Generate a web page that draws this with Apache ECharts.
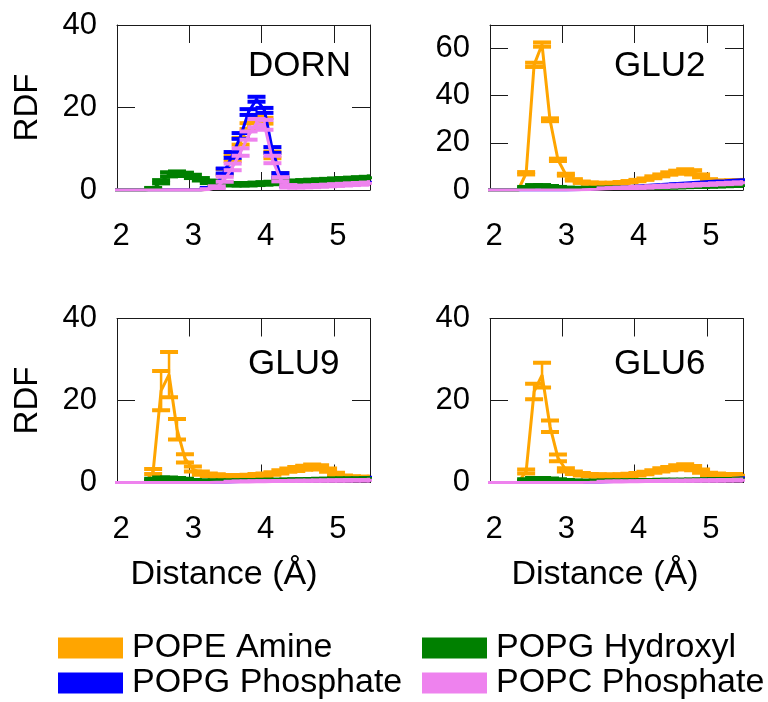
<!DOCTYPE html>
<html>
<head>
<meta charset="utf-8">
<title>RDF panels</title>
<script src="https://cdn.jsdelivr.net/npm/echarts@6/dist/echarts.min.js"></script>
<style>
  html, body { margin: 0; padding: 0; background: #fff; }
  #chart { width: 768px; height: 702px; }
</style>
</head>
<body>
<div id="chart"></div>
<script>
// Bin centres of the radial distribution functions (Å)
const distance = [1.95, 2.06, 2.17, 2.28, 2.39, 2.50, 2.61, 2.72, 2.83, 2.94, 3.05, 3.16, 3.27, 3.38, 3.49, 3.60, 3.71,
  3.82, 3.93, 4.04, 4.15, 4.26, 4.37, 4.48, 4.59, 4.70, 4.81, 4.92, 5.03, 5.14, 5.25, 5.36, 5.47, 5.58];

const panelNames = ['DORN', 'GLU2', 'GLU9', 'GLU6'];
const legendNames = ['POPE Amine', 'POPG Phosphate', 'POPG Hydroxyl', 'POPC Phosphate'];
const xTickLabels = [2, 3, 4, 5];
const yTickLabels40 = [0, 20, 40];
const yTickLabels70 = [0, 20, 40, 60];

// ---- DORN ----
const dornAmine = [0, 0, 0, 0, 0, 0, 0, 0, 0, 0, 0, 0, 0.2, 1.2, 4.4, 7.8, 11.8, 15.5, 17.5, 16.8, 8.5, 3.5, 1.3, 1.0, 1.0, 1.05, 1.1, 1.2, 1.3, 1.4, 1.5, 1.6, 1.7, 1.8];
const dornAmineErr = [0, 0, 0, 0, 0, 0, 0, 0, 0, 0, 0, 0, 0.1, 0.4, 0.7, 0.8, 0.8, 0.7, 0.7, 0.7, 0.8, 0.6, 0.3, 0.1, 0.1, 0.1, 0.1, 0.1, 0.1, 0.1, 0.1, 0.1, 0.1, 0.1];
const dornPhosPG = [0, 0, 0, 0, 0, 0, 0, 0, 0, 0, 0, 0, 0.3, 1.5, 4.6, 8.5, 13.1, 18.9, 22.0, 19.3, 9.7, 3.6, 1.2, 0.9, 1.0, 1.1, 1.2, 1.3, 1.4, 1.5, 1.6, 1.7, 1.8, 1.9];
const dornPhosPGErr = [0, 0, 0, 0, 0, 0, 0, 0, 0, 0, 0, 0, 0.2, 0.5, 0.6, 0.7, 0.7, 0.7, 0.6, 0.6, 0.7, 0.5, 0.3, 0, 0, 0, 0, 0, 0, 0, 0, 0, 0, 0];
const dornHydroxyl = [0, 0, 0, 0, 0, 0.3, 2.0, 3.8, 4.0, 3.8, 3.3, 2.6, 2.0, 1.6, 1.5, 1.4, 1.4, 1.4, 1.5, 1.6, 1.7, 1.8, 1.9, 2.0, 2.1, 2.2, 2.3, 2.4, 2.5, 2.6, 2.7, 2.8, 2.9, 3.0];
const dornHydroxylErr = [0, 0, 0, 0, 0, 0.2, 0.4, 0.5, 0.5, 0.4, 0.4, 0.3, 0.3, 0.3, 0.3, 0.3, 0.3, 0.3, 0.3, 0.3, 0.3, 0.3, 0.3, 0.3, 0.3, 0.3, 0.3, 0.3, 0.3, 0.3, 0.3, 0.3, 0.3, 0.3];
const dornPhosPC = [0, 0, 0, 0, 0, 0, 0, 0, 0, 0, 0, 0, 0.1, 0.6, 2.6, 5.6, 9.2, 13.2, 16.2, 15.8, 7.4, 2.6, 0.9, 0.8, 0.85, 0.9, 1.0, 1.1, 1.2, 1.3, 1.4, 1.5, 1.6, 1.7];
const dornPhosPCErr = [0, 0, 0, 0, 0, 0, 0, 0, 0, 0, 0, 0, 0.1, 0.3, 0.6, 0.8, 0.9, 1.0, 1.0, 1.2, 0.9, 0.5, 0.3, 0.2, 0.2, 0.2, 0.2, 0.2, 0.2, 0.2, 0.2, 0.2, 0.2, 0.2];

// ---- GLU2 ----
const glu2Amine = [0, 0, 0, 0, 0, 7.1, 53.1, 61.7, 29.8, 12.8, 6.5, 4.3, 3.3, 2.9, 2.8, 2.7, 2.8, 3.1, 3.5, 4.0, 4.6, 5.4, 6.2, 7.0, 7.6, 7.9, 7.5, 6.0, 4.2, 3.7, 3.7, 3.8, 3.9, 4.0];
const glu2AmineErr = [0, 0, 0, 0, 0, 0.5, 0.9, 0.9, 0.6, 0.5, 0.4, 0.3, 0.3, 0.3, 0.3, 0.3, 0.3, 0.3, 0.3, 0.3, 0.3, 0.4, 0.4, 0.5, 0.6, 0.9, 0.9, 0.6, 0.4, 0.3, 0.3, 0.3, 0.3, 0.3];
const glu2PhosPG = [0, 0, 0, 0, 0, 0, 0, 0, 0, 0, 0, 0.1, 0.2, 0.4, 0.6, 0.8, 1.0, 1.2, 1.5, 1.7, 1.9, 2.1, 2.3, 2.6, 2.8, 3.0, 3.2, 3.4, 3.6, 3.8, 3.9, 4.1, 4.3, 4.4];
const glu2PhosPGErr = [0, 0, 0, 0, 0, 0, 0, 0, 0, 0, 0, 0, 0, 0, 0, 0, 0, 0, 0, 0, 0, 0, 0, 0, 0, 0, 0, 0, 0, 0, 0, 0, 0, 0];
const glu2Hydroxyl = [0, 0, 0, 0, 0, 1.0, 1.8, 1.8, 1.4, 1.0, 0.8, 0.7, 0.7, 0.7, 0.7, 0.8, 0.8, 0.9, 0.9, 1.0, 1.0, 1.1, 1.2, 1.2, 1.3, 1.4, 1.5, 1.5, 1.6, 1.7, 1.8, 1.9, 1.9, 2.0];
const glu2HydroxylErr = [0, 0, 0, 0, 0, 0.3, 0.3, 0.3, 0.3, 0.3, 0.2, 0.2, 0.2, 0.2, 0.2, 0.2, 0.2, 0.2, 0.2, 0.2, 0.2, 0.2, 0.2, 0.2, 0.2, 0.2, 0.2, 0.2, 0.2, 0.2, 0.2, 0.2, 0.2, 0.2];
const glu2PhosPC = [0, 0, 0, 0, 0, 0, 0, 0, 0, 0, 0, 0.05, 0.1, 0.2, 0.3, 0.5, 0.6, 0.8, 0.9, 1.1, 1.2, 1.4, 1.5, 1.7, 1.8, 2.0, 2.1, 2.3, 2.4, 2.6, 2.7, 2.9, 3.0, 3.1];
const glu2PhosPCErr = [0, 0, 0, 0, 0, 0, 0, 0, 0, 0, 0, 0, 0, 0, 0, 0.2, 0.2, 0.2, 0.2, 0.2, 0.2, 0.2, 0.2, 0.2, 0.2, 0.2, 0.2, 0.2, 0.2, 0.2, 0.2, 0.2, 0.2, 0.2];

// ---- GLU9 ----
const glu9Amine = [0, 0, 0, 0, 0, 2.7, 22.4, 26.3, 13.0, 5.9, 3.3, 2.3, 1.9, 1.7, 1.5, 1.5, 1.5, 1.6, 1.8, 1.9, 2.2, 2.6, 3.0, 3.3, 3.6, 3.9, 3.7, 3.0, 2.1, 1.5, 1.3, 1.2, 1.2, 1.2];
const glu9AmineErr = [0, 0, 0, 0, 0, 0.6, 4.8, 5.5, 2.5, 1.0, 0.6, 0.4, 0.3, 0.3, 0.3, 0.3, 0.3, 0.3, 0.3, 0.3, 0.3, 0.4, 0.4, 0.5, 0.5, 0.5, 0.5, 0.4, 0.3, 0.2, 0.2, 0.2, 0.2, 0.2];
const glu9PhosPG = [0, 0, 0, 0, 0, 0, 0, 0, 0, 0, 0, 0, 0.05, 0.1, 0.15, 0.2, 0.25, 0.3, 0.35, 0.4, 0.45, 0.5, 0.55, 0.6, 0.65, 0.7, 0.8, 0.85, 0.9, 1.0, 1.05, 1.1, 1.2, 1.3];
const glu9PhosPGErr = [0, 0, 0, 0, 0, 0, 0, 0, 0, 0, 0, 0, 0, 0, 0, 0, 0, 0, 0, 0, 0, 0, 0, 0, 0, 0, 0, 0, 0, 0, 0, 0, 0, 0];
const glu9Hydroxyl = [0, 0, 0, 0, 0, 0.7, 1.0, 1.0, 0.9, 0.7, 0.5, 0.4, 0.4, 0.4, 0.4, 0.4, 0.45, 0.5, 0.5, 0.55, 0.6, 0.6, 0.65, 0.7, 0.7, 0.75, 0.8, 0.8, 0.85, 0.85, 0.9, 0.9, 0.95, 0.95];
const glu9HydroxylErr = [0, 0, 0, 0, 0, 0.2, 0.2, 0.2, 0.2, 0.2, 0.1, 0.1, 0.1, 0.1, 0.1, 0.1, 0.1, 0.1, 0.1, 0.1, 0.1, 0.1, 0.1, 0.1, 0.1, 0.1, 0.1, 0.1, 0.1, 0.1, 0.1, 0.1, 0.1, 0.1];
const glu9PhosPC = [0, 0, 0, 0, 0, 0, 0, 0, 0, 0, 0, 0, 0.02, 0.05, 0.08, 0.1, 0.12, 0.15, 0.18, 0.2, 0.22, 0.25, 0.28, 0.3, 0.32, 0.35, 0.38, 0.4, 0.42, 0.45, 0.48, 0.5, 0.52, 0.55];
const glu9PhosPCErr = [0, 0, 0, 0, 0, 0, 0, 0, 0, 0, 0, 0, 0, 0, 0, 0.1, 0.1, 0.1, 0.1, 0.1, 0.1, 0.1, 0.1, 0.1, 0.1, 0.1, 0.1, 0.1, 0.1, 0.1, 0.1, 0.1, 0.1, 0.1];

// ---- GLU6 ----
const glu6Amine = [0, 0, 0, 0, 0, 2.7, 22.2, 26.2, 13.7, 6.0, 3.1, 2.4, 2.0, 1.8, 1.7, 1.65, 1.65, 1.7, 1.85, 2.0, 2.3, 2.7, 3.1, 3.4, 3.7, 3.95, 3.5, 2.8, 2.1, 1.9, 1.8, 1.8, 1.75, 1.75];
const glu6AmineErr = [0, 0, 0, 0, 0, 0.5, 1.9, 3.0, 1.4, 0.8, 0.4, 0.3, 0.3, 0.3, 0.3, 0.3, 0.3, 0.3, 0.3, 0.3, 0.3, 0.3, 0.4, 0.4, 0.5, 0.5, 0.5, 0.4, 0.3, 0.3, 0.3, 0.3, 0.3, 0.3];
const glu6PhosPG = [0, 0, 0, 0, 0, 0, 0, 0, 0, 0, 0, 0, 0.05, 0.1, 0.15, 0.2, 0.25, 0.3, 0.35, 0.4, 0.45, 0.5, 0.55, 0.6, 0.65, 0.7, 0.75, 0.8, 0.85, 0.9, 0.95, 1.0, 1.1, 1.2];
const glu6PhosPGErr = [0, 0, 0, 0, 0, 0, 0, 0, 0, 0, 0, 0, 0, 0, 0, 0, 0, 0, 0, 0, 0, 0, 0, 0, 0, 0, 0, 0, 0, 0, 0, 0, 0, 0];
const glu6Hydroxyl = [0, 0, 0, 0, 0, 0.6, 0.9, 0.9, 0.8, 0.6, 0.5, 0.4, 0.35, 0.35, 0.35, 0.4, 0.4, 0.4, 0.45, 0.45, 0.5, 0.5, 0.55, 0.55, 0.6, 0.6, 0.65, 0.65, 0.7, 0.7, 0.75, 0.75, 0.8, 0.8];
const glu6HydroxylErr = [0, 0, 0, 0, 0, 0.2, 0.2, 0.2, 0.2, 0.2, 0.1, 0.1, 0.1, 0.1, 0.1, 0.1, 0.1, 0.1, 0.1, 0.1, 0.1, 0.1, 0.1, 0.1, 0.1, 0.1, 0.1, 0.1, 0.1, 0.1, 0.1, 0.1, 0.1, 0.1];
const glu6PhosPC = [0, 0, 0, 0, 0, 0, 0, 0, 0, 0, 0, 0, 0.02, 0.04, 0.07, 0.1, 0.12, 0.15, 0.17, 0.2, 0.22, 0.25, 0.27, 0.3, 0.33, 0.35, 0.38, 0.4, 0.43, 0.45, 0.48, 0.5, 0.55, 0.6];
const glu6PhosPCErr = [0, 0, 0, 0, 0, 0, 0, 0, 0, 0, 0, 0, 0, 0, 0, 0.1, 0.1, 0.1, 0.1, 0.1, 0.1, 0.1, 0.1, 0.1, 0.1, 0.1, 0.1, 0.1, 0.1, 0.1, 0.1, 0.1, 0.1, 0.1];

// ---- figure assembly ----
const FONT = '"Liberation Sans", Arial, Helvetica, sans-serif';
const INK = '#000';
const FRAME = '#1a1a1a';
const COLORS = { 'POPE Amine': '#FFA500', 'POPG Phosphate': '#0000FF', 'POPG Hydroxyl': '#008000', 'POPC Phosphate': '#EE82EE' };

// series per panel in drawing order: amine, PG phosphate, hydroxyl, PC phosphate
const panelSeries = [
  [[dornAmine, dornAmineErr], [dornPhosPG, dornPhosPGErr], [dornHydroxyl, dornHydroxylErr], [dornPhosPC, dornPhosPCErr]],
  [[glu2Amine, glu2AmineErr], [glu2PhosPG, glu2PhosPGErr], [glu2Hydroxyl, glu2HydroxylErr], [glu2PhosPC, glu2PhosPCErr]],
  [[glu9Amine, glu9AmineErr], [glu9PhosPG, glu9PhosPGErr], [glu9Hydroxyl, glu9HydroxylErr], [glu9PhosPC, glu9PhosPCErr]],
  [[glu6Amine, glu6AmineErr], [glu6PhosPG, glu6PhosPGErr], [glu6Hydroxyl, glu6HydroxylErr], [glu6PhosPC, glu6PhosPCErr]]
];
const seriesOrder = ['POPE Amine', 'POPG Phosphate', 'POPG Hydroxyl', 'POPC Phosphate'];

const layout = [
  { left: 117, top: 25, width: 253, height: 165, yMax: 40, yTicks: yTickLabels40, titleX: 248, titleY: 66, ylabel: true },
  { left: 490, top: 25, width: 253, height: 165, yMax: 70, yTicks: yTickLabels70, titleX: 614, titleY: 66, ylabel: false },
  { left: 117, top: 318.5, width: 253, height: 164, yMax: 40, yTicks: yTickLabels40, titleX: 248, titleY: 364, ylabel: true },
  { left: 490, top: 318.5, width: 253, height: 164, yMax: 40, yTicks: yTickLabels40, titleX: 614, titleY: 364, ylabel: false }
];

const grids = [], xAxes = [], yAxes = [], series = [], graphics = [];

function xAxisDef(gi, pos, labels) {
  return {
    type: 'value', gridIndex: gi, position: pos, min: 2, max: 5.5, interval: 1,
    axisLine: { show: true, onZero: false, lineStyle: { color: FRAME, width: 1 } },
    axisTick: { show: true, inside: true, length: 18, lineStyle: { color: FRAME, width: 1 } },
    axisLabel: {
      show: labels, margin: 31, fontSize: 31, fontFamily: FONT, color: INK, padding: [0, 0, 0, 8],
      formatter: v => (xTickLabels.indexOf(v) >= 0 ? String(v) : '')
    },
    splitLine: { show: false }
  };
}
function yAxisDef(gi, pos, labels, yMax, ticks) {
  return {
    type: 'value', gridIndex: gi, position: pos, min: 0, max: yMax, interval: 20,
    axisLine: { show: true, onZero: false, lineStyle: { color: FRAME, width: 1 } },
    axisTick: { show: true, inside: true, length: 18, lineStyle: { color: FRAME, width: 1 } },
    axisLabel: {
      show: labels, margin: 20, fontSize: 31, fontFamily: FONT, color: INK,
      formatter: v => (ticks.indexOf(v) >= 0 ? String(v) : '')
    },
    splitLine: { show: false }
  };
}

function renderErrorBar(params, api) {
  const x = api.value(0);
  const lo = api.coord([x, api.value(1)]);
  const hi = api.coord([x, api.value(2)]);
  const color = api.visual('color');
  const half = 9;
  const stem = { stroke: color, lineWidth: 2.5 };
  const cap = { stroke: color, lineWidth: 4 };
  return {
    type: 'group',
    children: [
      { type: 'line', shape: { x1: lo[0], y1: lo[1], x2: hi[0], y2: hi[1] }, style: stem },
      { type: 'line', shape: { x1: lo[0] - half, y1: lo[1], x2: lo[0] + half, y2: lo[1] }, style: cap },
      { type: 'line', shape: { x1: hi[0] - half, y1: hi[1], x2: hi[0] + half, y2: hi[1] }, style: cap }
    ]
  };
}

layout.forEach((L, p) => {
  grids.push({ left: L.left, top: L.top, width: L.width, height: L.height, containLabel: false, outerBoundsMode: 'none', show: false });
  xAxes.push(xAxisDef(p, 'bottom', true));
  xAxes.push(xAxisDef(p, 'top', false));
  yAxes.push(yAxisDef(p, 'left', true, L.yMax, L.yTicks));
  yAxes.push(yAxisDef(p, 'right', false, L.yMax, L.yTicks));

  panelSeries[p].forEach(([vals, errs], k) => {
    const name = seriesOrder[k];
    const color = COLORS[name];
    const z = 2 + k;
    series.push({
      type: 'line', name, xAxisIndex: 2 * p, yAxisIndex: 2 * p, z,
      data: distance.map((d, i) => [d, vals[i]]),
      showSymbol: false, symbol: 'none', clip: true, silent: true,
      lineStyle: { color, width: 3 }, itemStyle: { color }
    });
    const bars = [];
    distance.forEach((d, i) => { if (errs[i] > 0) bars.push([d, vals[i] - errs[i], vals[i] + errs[i]]); });
    series.push({
      type: 'custom', name, xAxisIndex: 2 * p, yAxisIndex: 2 * p, z, clip: true, silent: true,
      itemStyle: { color }, encode: { x: 0, y: [1, 2] },
      data: bars, renderItem: renderErrorBar
    });
  });

  graphics.push({
    type: 'text', x: L.titleX, y: L.titleY,
    style: { text: panelNames[p], fontSize: 35, fontFamily: FONT, fill: INK, align: 'left', verticalAlign: 'middle' }
  });
  if (L.ylabel) {
    graphics.push({
      type: 'text', x: 28, y: L.top + L.height / 2, rotation: Math.PI / 2,
      style: { text: 'RDF', fontSize: 33, fontFamily: FONT, fill: INK, align: 'center', verticalAlign: 'middle' }
    });
  }
});

// x-axis titles under the lower panels
graphics.push({ type: 'text', x: 224, y: 575, style: { text: 'Distance (Å)', fontSize: 34, fontFamily: FONT, fill: INK, align: 'center', verticalAlign: 'middle' } });
graphics.push({ type: 'text', x: 605, y: 575, style: { text: 'Distance (Å)', fontSize: 34, fontFamily: FONT, fill: INK, align: 'center', verticalAlign: 'middle' } });

const legendBase = {
  orient: 'horizontal', icon: 'rect', itemWidth: 65, itemHeight: 21, itemGap: 0, padding: 0,
  textStyle: { fontSize: 34, fontFamily: FONT, color: INK, padding: [0, 0, 0, 4] }
};
const legends = [
  Object.assign({}, legendBase, { data: [legendNames[0]], left: 58, top: 631 }),
  Object.assign({}, legendBase, { data: [legendNames[1]], left: 58, top: 666 }),
  Object.assign({}, legendBase, { data: [legendNames[2]], left: 422, top: 631 }),
  Object.assign({}, legendBase, { data: [legendNames[3]], left: 422, top: 666 })
];

const chart = echarts.init(document.getElementById('chart'), null, { renderer: 'canvas' });
chart.setOption({
  animation: false,
  backgroundColor: '#fff',
  grid: grids,
  xAxis: xAxes,
  yAxis: yAxes,
  legend: legends,
  graphic: graphics,
  series: series
});
</script>
</body>
</html>
